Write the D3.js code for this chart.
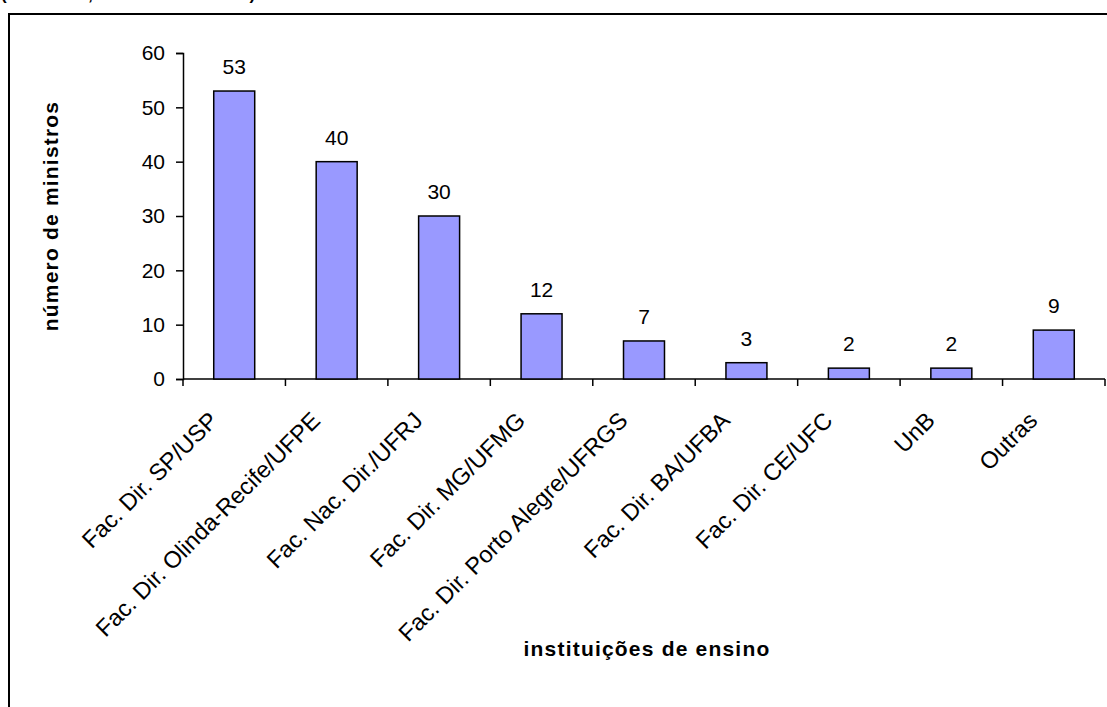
<!DOCTYPE html>
<html>
<head>
<meta charset="utf-8">
<script src="https://cdn.jsdelivr.net/npm/d3@7"></script>
<style>
  body { margin: 0; background: #fff; }
  svg { display: block; font-family: "Liberation Sans", Arial, sans-serif; }
</style>
</head>
<body>
<div id="chart"></div>
<script>
// data
var institutions = ["Fac. Dir. SP/USP", "Fac. Dir. Olinda-Recife/UFPE", "Fac. Nac. Dir./UFRJ",
  "Fac. Dir. MG/UFMG", "Fac. Dir. Porto Alegre/UFRGS", "Fac. Dir. BA/UFBA",
  "Fac. Dir. CE/UFC", "UnB", "Outras"];
var ministers = [53, 40, 30, 12, 7, 3, 2, 2, 9];
var yTicks = [0, 10, 20, 30, 40, 50, 60];

var svgWidth = 1107;
var svgHeight = 707;
var margin = {top: 53, right: 2, bottom: 328, left: 183};
var width = svgWidth - margin.left - margin.right;
var height = svgHeight - margin.top - margin.bottom;

var svg = d3.select("#chart")
  .append("svg")
  .attr("width", svgWidth)
  .attr("height", svgHeight);

// title, mostly above the top edge in the reference
svg.append("text")
  .attr("x", 1)
  .attr("y", 0)
  .attr("font-size", 17)
  .attr("font-weight", "bold")
  .text("(1891-2008, todos os ministros)");

// outer frame (runs off the right and bottom)
svg.append("rect")
  .attr("x", 9)
  .attr("y", 14)
  .attr("width", 1200)
  .attr("height", 800)
  .attr("fill", "none")
  .attr("stroke", "#000")
  .attr("stroke-width", 2);

var chart = svg.append("g")
  .attr("transform", `translate(${margin.left}, ${margin.top})`);

var xScale = d3.scaleBand()
  .domain(institutions)
  .range([0, width]);

var yScale = d3.scaleLinear()
  .domain([0, 60])
  .range([height, 0]);

// y axis
var leftAxis = d3.axisLeft(yScale)
  .tickValues(yTicks)
  .tickSize(7)
  .tickPadding(11);

var yAxis = chart.append("g").call(leftAxis);
yAxis.select(".domain").attr("stroke", "#000").attr("stroke-width", 1.5);
yAxis.selectAll(".tick line").attr("stroke", "#000").attr("stroke-width", 1.5);
yAxis.selectAll("text")
  .attr("font-size", 21)
  .attr("font-family", "Liberation Sans, Arial, sans-serif")
  .attr("fill", "#000");

// x axis line + ticks at category boundaries
var xAxisG = chart.append("g").attr("transform", `translate(0, ${height})`);
xAxisG.append("line")
  .attr("x1", 0).attr("x2", width)
  .attr("stroke", "#000").attr("stroke-width", 1.5);
var edges = institutions.map(d => xScale(d)).concat([width]);
xAxisG.selectAll("line.edge")
  .data(edges)
  .enter()
  .append("line")
  .attr("class", "edge")
  .attr("x1", d => d).attr("x2", d => d)
  .attr("y1", 0).attr("y2", 7)
  .attr("stroke", "#000").attr("stroke-width", 1.5);

// category labels rotated
xAxisG.selectAll("text.cat")
  .data(institutions)
  .enter()
  .append("text")
  .attr("class", "cat")
  .attr("text-anchor", "end")
  .attr("font-size", 23.5)
  .attr("transform", d => `translate(${xScale(d) + xScale.bandwidth() / 2 - 15}, 43) rotate(-45)`)
  .text(d => d);

// bars
var barW = xScale.bandwidth() * 0.4;
chart.selectAll("rect.bar")
  .data(ministers)
  .enter()
  .append("rect")
  .attr("class", "bar")
  .attr("x", (d, i) => xScale(institutions[i]) + (xScale.bandwidth() - barW) / 2)
  .attr("y", d => yScale(d))
  .attr("width", barW)
  .attr("height", d => height - yScale(d))
  .attr("fill", "#9999FF")
  .attr("stroke", "#000")
  .attr("stroke-width", 1.5);

// value labels
chart.selectAll("text.val")
  .data(ministers)
  .enter()
  .append("text")
  .attr("class", "val")
  .attr("text-anchor", "middle")
  .attr("font-size", 21)
  .attr("x", (d, i) => xScale(institutions[i]) + xScale.bandwidth() / 2)
  .attr("y", d => yScale(d) - 17)
  .text(d => d);

// axis titles
svg.append("text")
  .attr("transform", `translate(58, ${margin.top + height / 2}) rotate(-90)`)
  .attr("text-anchor", "middle")
  .attr("font-size", 21)
  .attr("letter-spacing", 1.2)
  .attr("font-weight", "bold")
  .text("número de ministros");

svg.append("text")
  .attr("x", margin.left + width / 2 + 3)
  .attr("y", 656)
  .attr("text-anchor", "middle")
  .attr("font-size", 21)
  .attr("letter-spacing", 1.2)
  .attr("font-weight", "bold")
  .text("instituições de ensino");
</script>
</body>
</html>
